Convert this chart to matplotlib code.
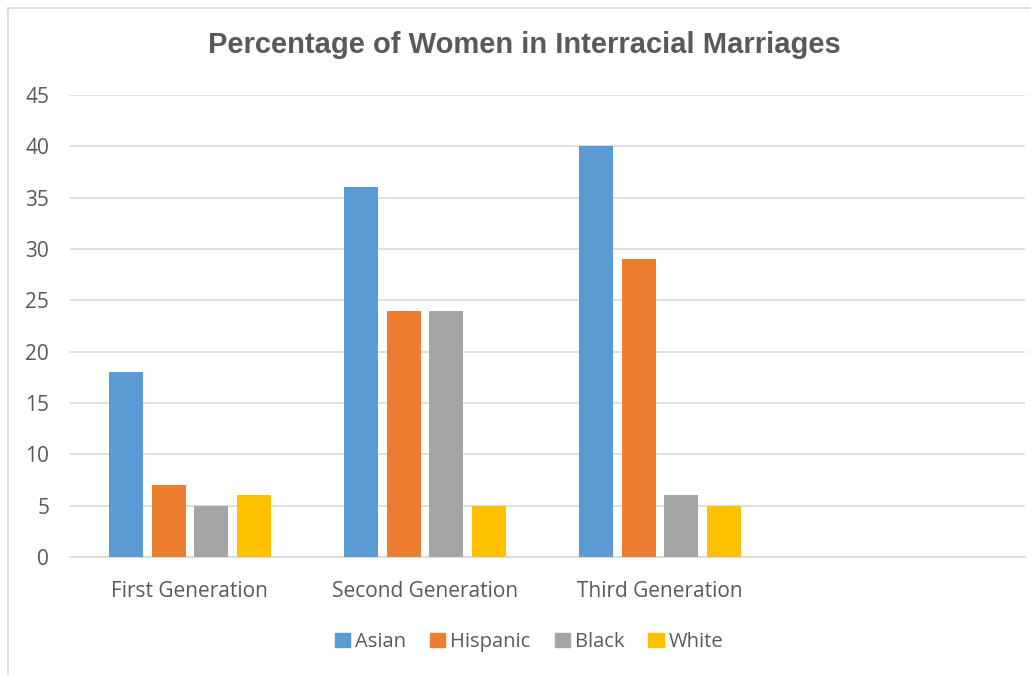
import numpy as np
import matplotlib.pyplot as plt
from matplotlib.lines import Line2D

categories = ['First Generation', 'Second Generation', 'Third Generation', '']
asian = [18, 36, 40]
hispanic = [7, 24, 29]
black = [5, 24, 6]
white = [6, 5, 5]

series = ['Asian', 'Hispanic', 'Black', 'White']
colors = ['#5B9BD5', '#ED7D31', '#A5A5A5', '#FFC000']

fig = plt.figure(figsize=(10.31, 6.75), dpi=100)
ax = fig.add_axes([70/1031, 1-557/675, 955/1031, 462/675])

x = np.arange(len(asian))
cw = 235.0  # pixels per category
bw = 34/cw
step = 42.5/cw
for i, (name, vals) in enumerate(zip(series, [asian, hispanic, black, white])):
    ax.bar(x + (i-1.5)*step, vals, width=bw, color=colors[i], label=name, zorder=3)

ax.set_xlim((70-189.75)/cw, (1025-189.75)/cw)
ax.set_ylim(0, 45)
ax.set_yticks(range(0, 46, 5))
ax.set_xticks(range(len(categories)))
ax.set_xticklabels(categories)
ax.grid(axis='y', color='#D9D9D9', linewidth=1.2, zorder=0)
for s in ['top', 'right', 'left']:
    ax.spines[s].set_visible(False)
ax.spines['bottom'].set_color('#D9D9D9')
ax.spines['bottom'].set_linewidth(1.2)
ax.tick_params(length=0, labelsize=15, labelcolor='#595959')
ax.tick_params(axis='x', pad=17)
ax.tick_params(axis='y', pad=15)
for t in ax.get_xticklabels() + ax.get_yticklabels():
    t.set_family('Open Sans')

fig.text(524/1031, 1-45/675, 'Percentage of Women in Interracial Marriages',
         ha='center', va='center', fontsize=21, fontweight='bold',
         color='#595959', family='Liberation Sans')

handles = [plt.Rectangle((0, 0), 1, 1, color=c) for c in colors]
fig.legend(handles, series, loc='center', bbox_to_anchor=(529/1031, 1-642/675),
           ncol=4, frameon=False, prop={'family': 'Open Sans', 'size': 14.5},
           labelcolor='#595959', handlelength=0.75, handleheight=0.75,
           handletextpad=0.25, columnspacing=1.2)

# chart border (partially visible)
fig.add_artist(Line2D([8/1031, 8/1031], [0, 1-8/675], color='#D9D9D9', lw=1.2))
fig.add_artist(Line2D([8/1031, 1], [1-8/675, 1-8/675], color='#D9D9D9', lw=1.2))

fig.savefig('out.png', dpi=100)
